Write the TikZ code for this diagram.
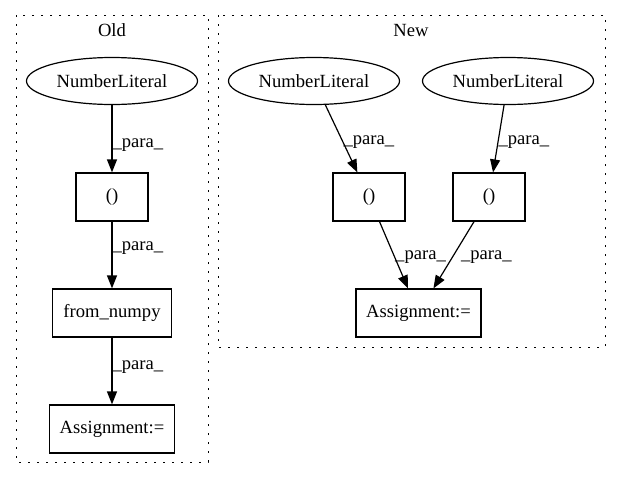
\documentclass[tikz,border=0pt]{standalone}
\usepackage{fontspec}
\setmainfont{Liberation Serif}
\usetikzlibrary{shapes.geometric,arrows.meta}

\begin{document}
\begin{tikzpicture}[x=1pt,y=-1pt,
    every node/.style={font=\fontsize{18.6}{22}\selectfont},
    lit/.style={draw,ellipse,line width=1.2pt,minimum width=171pt,minimum height=47pt,inner sep=0pt},
    box/.style={draw,rectangle,line width=1.2pt,minimum height=48pt,inner sep=0pt},
    flow/.style={-{Triangle[length=13pt,width=10pt]},line width=1.2pt},
    lbl/.style={anchor=west,inner sep=0pt},
    cluster/.style={line width=1pt,dash pattern=on 2pt off 7pt}]
\useasboundingbox (0,0) rectangle (620,480);
% clusters
\draw [cluster] (16,15) rectangle (208,462);
                     \node (oldtitle) at (112,30) {Old};
\draw [cluster] (218,15) rectangle (605,347);
                     \node (newtitle) at (411,30) {New};
% old graph
\node [lit] (oldnum) at (112,81) {NumberLiteral};
\node [box,minimum width=72pt] (oldtuple) at (112,197) {()};
\node [box,minimum width=119pt] (fromnp) at (112,313) {from\_numpy};
\node [box,minimum width=125pt] (oldassign) at (112,429) {Assignment:=};
\draw [flow] (oldnum) -- node[lbl,pos=0.59] {\_para\_} (oldtuple);
\draw [flow] (oldtuple) -- node[lbl,pos=0.4] {\_para\_} (fromnp);
\draw [flow] (fromnp) -- node[lbl,pos=0.44] {\_para\_} (oldassign);
% new graph
\node [lit] (newnuma) at (314,81) {NumberLiteral};
\node [lit] (newnumb) at (508,81) {NumberLiteral};
\node [box,minimum width=72pt] (newtuplea) at (369,197) {()};
\node [box,minimum width=72pt] (newtupleb) at (489,197) {()};
\node [box,minimum width=125pt] (newassign) at (418.5,313) {Assignment:=};
\draw [flow] (newnuma) -- node[lbl,pos=0.55] {\_para\_} (newtuplea);
\draw [flow] (newnumb) -- node[lbl,pos=0.55] {\_para\_} (newtupleb);
\draw [flow] (newtuplea) -- node[lbl,pos=0.53] {\_para\_} (newassign);
\draw [flow] (newtupleb) -- node[lbl,pos=0.53,xshift=8pt] {\_para\_} (newassign);
\end{tikzpicture}
\end{document}
